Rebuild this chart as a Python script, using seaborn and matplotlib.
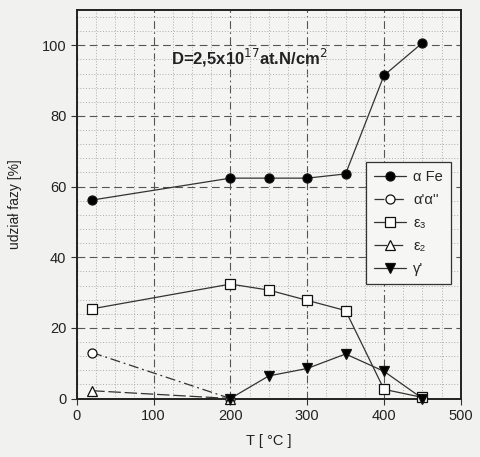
import matplotlib
matplotlib.use("Agg")
import matplotlib.pyplot as plt
from matplotlib.ticker import MultipleLocator
import seaborn as sns
import pandas as pd

sns.set_theme(style="white")
plt.rcParams["font.family"] = ["Liberation Sans", "DejaVu Sans"]

# Phase fractions [%] versus annealing temperature [°C]
t_alpha_fe = [20, 200, 250, 300, 350, 400, 450]
alpha_fe = [56.2, 62.4, 62.4, 62.4, 63.6, 91.5, 100.7]

t_alpha_prime = [20, 200]
alpha_prime = [13.0, 0.0]

t_eps3 = [20, 200, 250, 300, 350, 400, 450]
eps3 = [25.4, 32.4, 30.7, 27.8, 24.9, 2.6, 0.3]

t_eps2 = [20, 200]
eps2 = [2.2, 0.0]

t_gamma = [200, 250, 300, 350, 400, 450]
gamma = [0.0, 6.4, 8.5, 12.6, 7.7, 0.0]

labels = ["α Fe", "α'α''", "ε₃", "ε₂", "γ'"]

series = [
    (t_alpha_fe, alpha_fe, labels[0], "o", "black", "-"),
    (t_alpha_prime, alpha_prime, labels[1], "o", "white", (0, (8, 3, 1.5, 3))),
    (t_eps3, eps3, labels[2], "s", "white", "-"),
    (t_eps2, eps2, labels[3], "^", "white", (0, (10, 3))),
    (t_gamma, gamma, labels[4], "v", "black", "-"),
]

fig = plt.figure(figsize=(4.8, 4.57), dpi=100, facecolor="#f1f1f0")
ax = fig.add_axes([0.16, 0.128, 0.80, 0.850])
ax.set_facecolor("#f4f4f3")

for x, y, lab, mk, fc, ls in series:
    df = pd.DataFrame({"T": x, "v": y})
    sns.lineplot(data=df, x="T", y="v", ax=ax, color="#333333", linewidth=0.9,
                 linestyle=ls, marker=mk, markersize=6.5, markerfacecolor=fc,
                 markeredgecolor="#111111", markeredgewidth=0.9, label=lab,
                 zorder=5, clip_on=False)

ax.set_xlim(0, 500)
ax.set_ylim(0, 110)
ax.xaxis.set_major_locator(MultipleLocator(100))
ax.yaxis.set_major_locator(MultipleLocator(20))
ax.xaxis.set_minor_locator(MultipleLocator(25))
ax.yaxis.set_minor_locator(MultipleLocator(4))

ax.grid(which="major", axis="y", color="#555555", linestyle=(0, (7, 4)), linewidth=0.8)
ax.grid(which="major", axis="x", color="#555555", linestyle=(0, (7, 3, 1.5, 3)), linewidth=0.8)
ax.grid(which="minor", color="#a5a5a5", linestyle=(0, (1.2, 2.2)), linewidth=0.6)

for s in ax.spines.values():
    s.set_color("#222222")
    s.set_linewidth(1.4)

ax.tick_params(axis="both", which="major", direction="out", length=4, width=0.8,
               color="#333333", labelsize=10.5, labelcolor="#222222")
ax.tick_params(axis="both", which="minor", direction="out", length=2, width=0.6, color="#666666")
ax.tick_params(bottom=True, left=True)

ax.set_xlabel("T [ °C ]", fontsize=10.5, color="#222222", labelpad=8)
ax.set_ylabel("udział fazy [%]", fontsize=10, color="#222222", labelpad=14)

ax.text(225, 96.5, r"D=2,5x10$^{17}$at.N/cm$^{2}$", ha="center", va="center",
        fontsize=12, fontweight="bold", color="#222222")

leg = ax.legend(loc="upper left", bbox_to_anchor=(0.734, 0.628), frameon=True,
                fancybox=False, edgecolor="#333333", facecolor="#f6f6f5",
                framealpha=1, fontsize=10.5, handlelength=2.2, labelspacing=0.62,
                borderpad=0.55, handletextpad=0.5)
leg.get_frame().set_linewidth(0.9)
leg.set_zorder(10)

fig.savefig("out.png", dpi=100, facecolor=fig.get_facecolor())
